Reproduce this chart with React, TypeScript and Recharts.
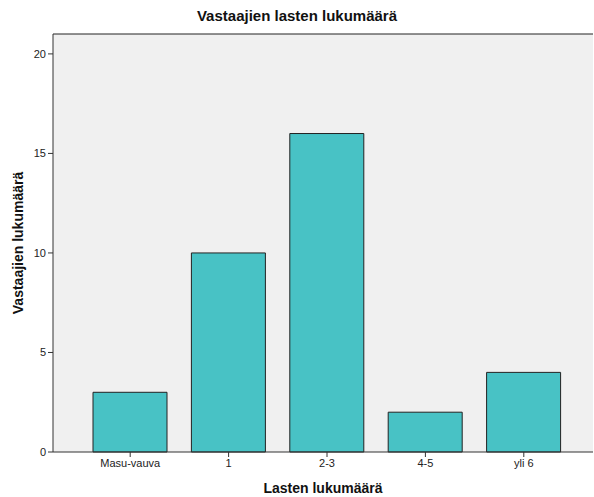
import React from "react";
import { BarChart, Bar, XAxis, YAxis, CartesianGrid, ReferenceLine, Label } from "recharts";

const categories = ["Masu-vauva", "1", "2-3", "4-5", "yli 6"];
const counts = [3, 10, 16, 2, 4];
const yTicks = [0, 5, 10, 15, 20];

const data = categories.map((c, i) => ({ name: c, value: counts[i] }));

const font = "'Liberation Sans', Arial, sans-serif";

export default function App() {
  return (
    <div style={{ position: "absolute", left: 0, top: 0, width: 594, height: 497, background: "#fff", fontFamily: font }}>
      <div style={{ position: "absolute", top: 7, left: 0, width: 594, textAlign: "center", fontWeight: "bold", fontSize: 15, color: "#111" }}>
        Vastaajien lasten lukumäärä
      </div>
      <BarChart
        width={594}
        height={497}
        data={data}
        margin={{ top: 34, right: 1, bottom: 0, left: 0 }}
        barCategoryGap={12}
      >
        <CartesianGrid horizontal={false} vertical={false} fill="#F0F0F0" />
        <ReferenceLine y={21} stroke="#222" strokeWidth={1} />
        <XAxis
          dataKey="name"
          height={45}
          tickSize={5}
          padding={{ left: 28, right: 20 }}
          stroke="#333"
          tick={{ fontSize: 11, fill: "#222", fontFamily: font }}
        >
          <Label value="Lasten lukumäärä" position="insideBottom" offset={4} style={{ fontSize: 14, fontWeight: "bold", fill: "#111", fontFamily: font }} />
        </XAxis>
        <YAxis
          width={53}
          domain={[0, 21]}
          ticks={yTicks}
          tickSize={5}
          stroke="#333"
          tick={{ fontSize: 11, fill: "#222", fontFamily: font }}
        >
          <Label value="Vastaajien lukumäärä" angle={-90} position="insideLeft" offset={18} style={{ textAnchor: "middle", fontSize: 14, fontWeight: "bold", fill: "#111", fontFamily: font }} />
        </YAxis>
        <Bar dataKey="value" fill="#48C2C5" stroke="#222" strokeWidth={1} isAnimationActive={false} />
      </BarChart>
    </div>
  );
}
